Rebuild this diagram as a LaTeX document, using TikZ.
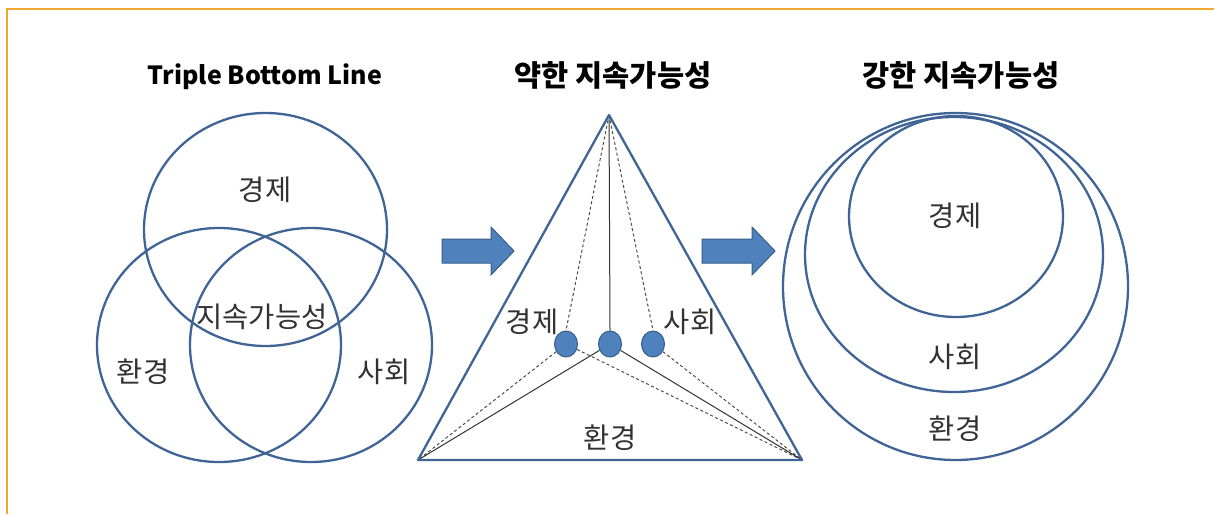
\documentclass[tikz,border=0pt]{standalone}
\usepackage{fontspec}
\setmainfont{Noto Sans CJK KR}
\usetikzlibrary{shapes.geometric}
\definecolor{frameor}{RGB}{240,168,48}
\definecolor{lineblue}{RGB}{64,100,150}
\definecolor{fillblue}{RGB}{79,129,189}
\definecolor{edgeblue}{RGB}{56,93,138}
\definecolor{txt}{RGB}{50,50,50}
\tikzset{
  ring/.style={draw=lineblue, line width=2.3pt},
  lbl/.style={text=txt, font=\fontsize{28.5}{32}\selectfont, inner sep=0pt},
  ttl/.style={text=black, font=\fontsize{29.5}{34}\selectfont\bfseries, inner sep=0pt},
  ttllat/.style={text=black, font=\fontsize{25}{30}\selectfont\bfseries, inner sep=0pt},
  dot/.style={ellipse, draw=edgeblue, fill=fillblue, line width=1pt, minimum width=23pt, minimum height=26pt, inner sep=0pt},
  solidln/.style={draw=black!80, line width=1pt},
  dashln/.style={draw=black!70, line width=1pt, dash pattern=on 3pt off 2.5pt},
  blockarrow/.style={fill=fillblue, draw=edgeblue, line width=1pt},
}
\begin{document}
\begin{tikzpicture}[x=1pt,y=-1pt]
\useasboundingbox (0,0) rectangle (1214,514);
% frame
\draw[frameor, line width=2pt] (1214,9) -- (7,9) -- (7,514);
% --- left: triple bottom line
\node[ttllat] (t1) at (265,77) {Triple Bottom Line};
\draw[ring] (265.5,229.5) ellipse [x radius=121.5, y radius=116.5];
\draw[ring] (219,345) ellipse [x radius=122, y radius=117];
\draw[ring] (311,345) ellipse [x radius=121, y radius=117];
\node[lbl] (l1) at (265,190) {경제};
\node[lbl] (l2) at (262,317) {지속가능성};
\node[lbl] (l3) at (143,372) {환경};
\node[lbl] (l4) at (384,372) {사회};
% arrows
\draw[blockarrow] (442,239) -- (491,239) -- (491,227) -- (514,251) -- (491,275) -- (491,263) -- (442,263) -- cycle;
\draw[blockarrow] (702,239) -- (752,239) -- (752,227) -- (775,251) -- (752,275) -- (752,263) -- (702,263) -- cycle;
% --- middle: weak sustainability
\node[ttl] (t2) at (613,75) {약한 지속가능성};
\coordinate (apex) at (609,115);
\coordinate (bl) at (418,460);
\coordinate (br) at (802,460);
\node[dot] (dl) at (566,344) {};
\node[dot] (dm) at (610,344) {};
\node[dot] (dr) at (653,344) {};
\draw[dashln] (apex) -- (dl.north);
\draw[dashln] (apex) -- (dr.north);
\draw[solidln] (apex) -- (dm.north);
\draw[dashln] (dl) -- (bl);
\draw[dashln] (dl) -- (br);
\draw[dashln] (dr) -- (br);
\draw[solidln] (dm) -- (bl);
\draw[solidln] (dm) -- (br);
\draw[ring, line join=round] (apex) -- (br) -- (bl) -- cycle;
\node[lbl] (m1) at (532,322) {경제};
\node[lbl] (m2) at (690,322) {사회};
\node[lbl] (m3) at (610,438) {환경};
% --- right: strong sustainability
\node[ttl] (t3) at (961,75) {강한 지속가능성};
\draw[ring] (955.5,286.5) ellipse [x radius=172.5, y radius=173.5];
\draw[ring] (954,254.5) ellipse [x radius=149, y radius=137.5];
\draw[ring] (956,216.5) ellipse [x radius=107, y radius=100.5];
\node[lbl] (r1) at (955,216) {경제};
\node[lbl] (r2) at (955,357) {사회};
\node[lbl] (r3) at (955,429) {환경};
\end{tikzpicture}
\end{document}
